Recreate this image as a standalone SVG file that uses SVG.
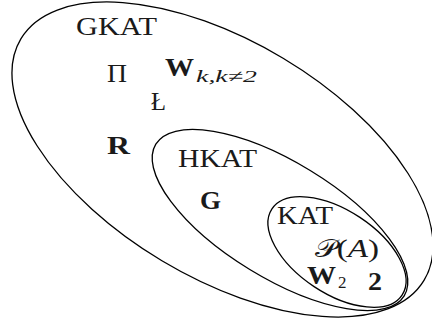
<svg xmlns="http://www.w3.org/2000/svg" width="432" height="322" viewBox="0 0 432 322">
<style>
.set{fill:none;stroke:#000;stroke-width:1.3}
text{font-family:'Liberation Serif','DejaVu Serif',serif;font-size:26px;fill:#1a1a1a}
.b{font-weight:bold}
.i{font-style:italic}
.s{font-size:17px}
</style>
<rect width="432" height="322" fill="#fff"/>
<g id="gkat">
<ellipse class="set" cx="222.5" cy="159.5" rx="235" ry="118" transform="rotate(30.9 222.5 159.5)"/>
<text x="76" y="35" textLength="81" lengthAdjust="spacingAndGlyphs">GKAT</text>
</g>
<g id="hkat">
<ellipse class="set" cx="280" cy="220" rx="145.5" ry="58" transform="rotate(31.4 280 220)"/>
<text x="178" y="167" textLength="79" lengthAdjust="spacingAndGlyphs">HKAT</text>
</g>
<g id="kat">
<ellipse class="set" cx="337" cy="252" rx="78" ry="41.5" transform="rotate(33.5 337 252)"/>
<text x="277" y="224" textLength="56" lengthAdjust="spacingAndGlyphs">KAT</text>
</g>
<g id="pi"><text x="107" y="82" textLength="20" lengthAdjust="spacingAndGlyphs">Π</text></g>
<g id="wk"><text class="b" x="165" y="76" textLength="29" lengthAdjust="spacingAndGlyphs">W</text><text class="i s" x="196" y="82" textLength="61" lengthAdjust="spacingAndGlyphs">k,k≠2</text></g>
<g id="l"><text x="151" y="110" textLength="15" lengthAdjust="spacingAndGlyphs">Ł</text></g>
<g id="r"><text class="b" x="107" y="154" textLength="23" lengthAdjust="spacingAndGlyphs">R</text></g>
<g id="g"><text class="b" x="200" y="209" textLength="21" lengthAdjust="spacingAndGlyphs">G</text></g>
<g id="pa"><text x="315" y="257" textLength="64" lengthAdjust="spacingAndGlyphs"><tspan font-family="DejaVu Serif" font-size="24">𝒫</tspan><tspan>(</tspan><tspan class="i">A</tspan><tspan>)</tspan></text></g>
<g id="w2"><text class="b" x="307" y="284" textLength="29" lengthAdjust="spacingAndGlyphs">W</text><text class="s" x="338" y="288">2</text></g>
<g id="two"><text class="b" x="368" y="290" textLength="14" lengthAdjust="spacingAndGlyphs">2</text></g>
<g id="connectors"/>
</svg>
